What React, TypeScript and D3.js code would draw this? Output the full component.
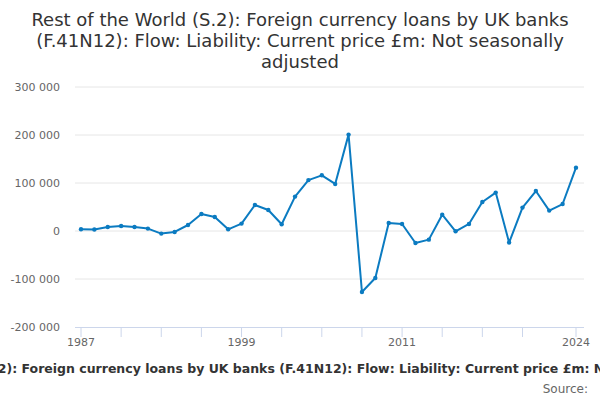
import { useMemo } from "react";
import * as d3 from "d3";

// ── Data ──────────────────────────────────────────────────────
const YEARS = d3.range(1987, 2025);
const VALUES = [
  3500, 3000, 8300, 10400, 8300, 5000, -5400, -2000, 12500, 35400,
  29200, 3500, 15400, 54200, 43800, 14000, 71700, 106000, 116000, 98000,
  200800, -127000, -98000, 16700, 14600, -25000, -18000, 34000, -600, 14600,
  60400, 80000, -24000, 48700, 83300, 42500, 56200, 132000,
];
const Y_TICKS = [-200000, -100000, 0, 100000, 200000, 300000];
const X_TICKS = [1987, 1990, 1993, 1996, 1999, 2002, 2005, 2008, 2011, 2014, 2017, 2020, 2024];
const X_LABELS = [1987, 1999, 2011, 2024];

const TITLE_LINES = [
  "Rest of the World (S.2): Foreign currency loans by UK banks",
  "(F.41N12): Flow: Liability: Current price £m: Not seasonally",
  "adjusted",
];
const TITLE = TITLE_LINES.join(" ");

const W = 600, H = 400;
const LEFT = 75, RIGHT = 584, TOP = 87, BOTTOM = 327;
const LINE_COLOR = "#0b7bc1";
const FONT = "'DejaVu Sans', Verdana, sans-serif";

const fmt = (v: number) => d3.format(",")(v).replace(/,/g, " ").replace("−", "-");

export default function App() {
  const x = useMemo(() => d3.scaleLinear().domain([1987, 2024]).range([81, 576]), []);
  const y = useMemo(() => d3.scaleLinear().domain([-200000, 300000]).range([BOTTOM, TOP]), []);
  const line = d3.line<number>().x((_d, i) => x(YEARS[i])).y((d) => y(d));

  return (
    <div style={{ position: "fixed", left: 0, top: 0 }}>
      <svg width={W} height={H} style={{ display: "block", fontFamily: FONT, background: "#fff" }}>
        {/* title */}
        {TITLE_LINES.map((t, i) => (
          <text key={i} x={W / 2} y={26 + i * 21} textAnchor="middle" fontSize={18} fill="#333">
            {t}
          </text>
        ))}

        {/* grid + y labels */}
        {Y_TICKS.map((t) => (
          <g key={t}>
            {t !== -200000 && (
              <line x1={LEFT} x2={RIGHT} y1={y(t)} y2={y(t)} stroke="#e6e6e6" strokeWidth={1} />
            )}
            <text x={60} y={y(t) + 4} textAnchor="end" fontSize={11} fill="#666">
              {fmt(t)}
            </text>
          </g>
        ))}

        {/* x axis */}
        <line x1={LEFT} x2={RIGHT} y1={BOTTOM + 0.5} y2={BOTTOM + 0.5} stroke="#ccd6eb" />
        {X_TICKS.map((t) => (
          <line key={t} x1={x(t)} x2={x(t)} y1={BOTTOM} y2={BOTTOM + 10} stroke="#ccd6eb" />
        ))}
        {X_LABELS.map((t) => (
          <text key={t} x={x(t)} y={346} textAnchor="middle" fontSize={11} fill="#666">
            {t}
          </text>
        ))}

        {/* series */}
        <path d={line(VALUES) ?? ""} fill="none" stroke={LINE_COLOR} strokeWidth={2}
          strokeLinejoin="round" strokeLinecap="round" />
        {VALUES.map((v, i) => (
          <circle key={i} cx={x(YEARS[i])} cy={y(v)} r={2.2} fill={LINE_COLOR} />
        ))}

        {/* caption (overflows the frame, as in the original) */}
        <text x={W / 2 + 7} y={373} textAnchor="middle" fontSize={12.5} fontWeight="bold" fill="#333">
          {TITLE}
        </text>
        <text x={588} y={393} textAnchor="end" fontSize={12} fill="#666">
          Source:
        </text>
      </svg>
    </div>
  );
}
